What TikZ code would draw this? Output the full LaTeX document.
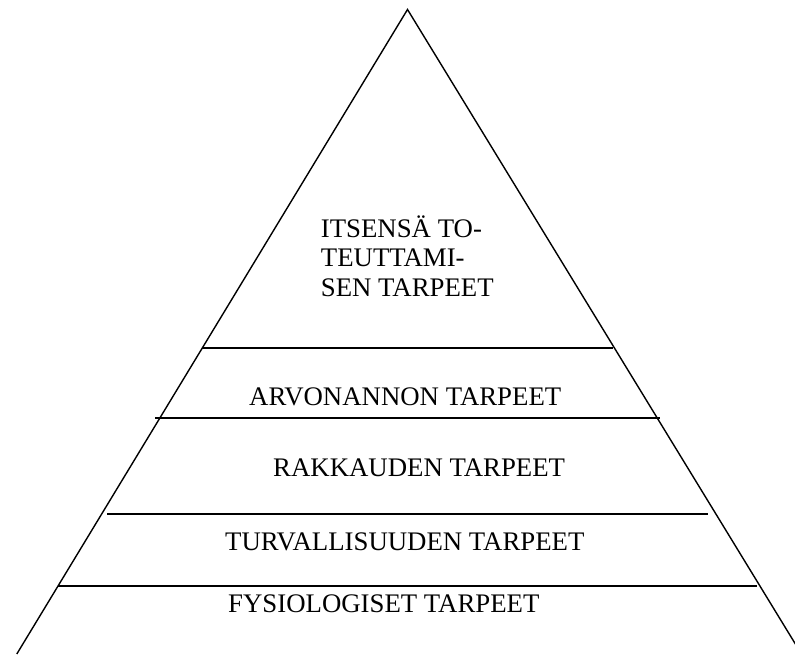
\documentclass[tikz,border=0pt]{standalone}
\usepackage{fontspec}
\setmainfont{Liberation Serif}
\begin{document}
\begin{tikzpicture}[x=1pt,y=-1pt,
  edge/.style={line width=1.4pt, line cap=butt},
  lvl/.style={line width=1.6pt},
  lbl/.style={anchor=base west, inner sep=0pt, font=\fontsize{26.8}{29.3}\selectfont}]
\useasboundingbox (0,0) rectangle (795,654);
\begin{scope}
\clip (0,0) rectangle (795,654);
\coordinate (apex) at (407.5,9.5);
\coordinate (bl) at (16.8,654);
\coordinate (br) at (801.5,654);
\draw[edge] (bl) -- (apex) -- (br);
\end{scope}
\coordinate (l1a) at (202,348);   \coordinate (l1b) at (613,348);
\coordinate (l2a) at (155,418);   \coordinate (l2b) at (660,418);
\coordinate (l3a) at (107,514);   \coordinate (l3b) at (708,514);
\coordinate (l4a) at (58,586);    \coordinate (l4b) at (757,586);
\draw[lvl] (l1a) -- (l1b);
\draw[lvl] (l2a) -- (l2b);
\draw[lvl] (l3a) -- (l3b);
\draw[lvl] (l4a) -- (l4b);
\node[lbl, align=left] (itse) at (320.7,296) {ITSENSÄ TO-\\TEUTTAMI-\\SEN TARPEET};
\node[lbl] (arvo) at (249,405) {ARVONANNON TARPEET};
\node[lbl] (rakk) at (273,476) {RAKKAUDEN TARPEET};
\node[lbl] (turv) at (225,550) {TURVALLISUUDEN TARPEET};
\node[lbl] (fysi) at (228,612.7) {FYSIOLOGISET TARPEET};
\end{tikzpicture}
\end{document}
